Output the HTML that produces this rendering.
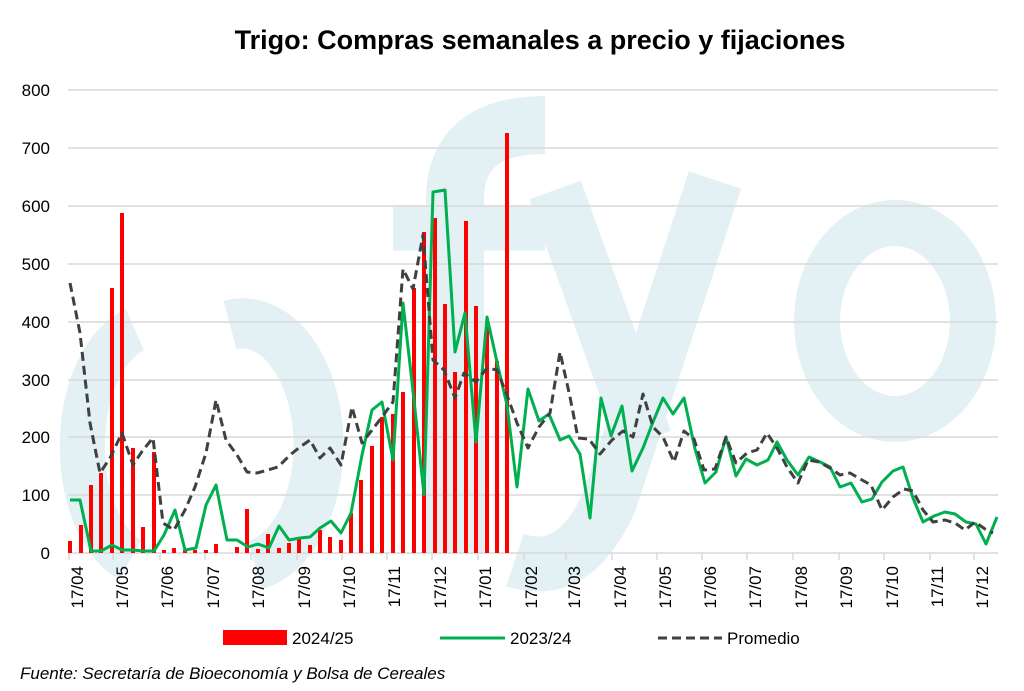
<!DOCTYPE html><html><head><meta charset="utf-8"><style>body{margin:0;background:#fff}svg{display:block;font-family:"Liberation Sans",sans-serif}</style></head><body>
<svg width="1024" height="691" viewBox="0 0 1024 691">
<rect width="1024" height="691" fill="#fff"/>
<g fill="none" stroke="#e3f0f4">
<path d="M135,330 A70,120 0 0 0 130,560" stroke-width="45"/>
<path d="M230,325 A75,120 0 0 1 255,565" stroke-width="50"/>
<path d="M455,553 V200 Q455,125 545,125" stroke-width="58"/>
<path d="M393,228 H545" stroke-width="45"/>
<path d="M555,190 L645,440" stroke-width="55"/>
<path d="M715,180 L610,500 Q575,580 515,560" stroke-width="55"/>
<ellipse cx="895" cy="321" rx="78" ry="98" stroke-width="46"/>
</g>
<g stroke="#d9d9d9" stroke-width="1.5">
<line x1="68" x2="998" y1="90" y2="90"/><line x1="68" x2="998" y1="148" y2="148"/><line x1="68" x2="998" y1="206" y2="206"/><line x1="68" x2="998" y1="264" y2="264"/><line x1="68" x2="998" y1="322" y2="322"/><line x1="68" x2="998" y1="380" y2="380"/><line x1="68" x2="998" y1="437" y2="437"/><line x1="68" x2="998" y1="495" y2="495"/><line x1="68" x2="998" y1="553" y2="553"/>
</g>
<g stroke="#d9d9d9" stroke-width="1.5">
<line x1="69" x2="69" y1="553" y2="560"/><line x1="113" x2="113" y1="553" y2="560"/><line x1="160" x2="160" y1="553" y2="560"/><line x1="205" x2="205" y1="553" y2="560"/><line x1="251" x2="251" y1="553" y2="560"/><line x1="297" x2="297" y1="553" y2="560"/><line x1="342" x2="342" y1="553" y2="560"/><line x1="387" x2="387" y1="553" y2="560"/><line x1="432" x2="432" y1="553" y2="560"/><line x1="478" x2="478" y1="553" y2="560"/><line x1="524" x2="524" y1="553" y2="560"/><line x1="566" x2="566" y1="553" y2="560"/><line x1="612" x2="612" y1="553" y2="560"/><line x1="657" x2="657" y1="553" y2="560"/><line x1="702" x2="702" y1="553" y2="560"/><line x1="747" x2="747" y1="553" y2="560"/><line x1="793" x2="793" y1="553" y2="560"/><line x1="839" x2="839" y1="553" y2="560"/><line x1="884" x2="884" y1="553" y2="560"/><line x1="930" x2="930" y1="553" y2="560"/><line x1="974" x2="974" y1="553" y2="560"/>
</g>
<path fill="none" stroke="#f00" stroke-width="4" d="M70,553V541M81,553V525M91,553V485M101,553V473M112,553V288M122,553V213M133,553V448M143,553V527M154,553V452M164,553V550M174,553V548M185,553V550M195,553V550M206,553V550M216,553V544M237,553V547M247,553V509M258,553V549M268,553V534M279,553V548M289,553V543M299,553V539M310,553V545M320,553V530M330,553V537M341,553V540M351,553V513M361,553V480M372,553V446M382,553V417M393,553V414M403,553V392M414,553V288M424,553V232M435,553V218M445,553V304M455,553V372M466,553V221M476,553V306M487,553V327M497,553V361M507,553V133"/>
<polyline fill="none" stroke="#00b050" stroke-width="3" stroke-linejoin="round" points="70,500 80,500 91,551 101,551 112,545 122,550 133,550 143,551 154,551 164,535 175,510 185,550 196,548 206,505 216,485 227,540 237,540 248,547 258,544 269,548 279,526 289,540 300,538 310,537 320,528 331,521 341,533 351,513 362,455 372,410 382,402 393,460 403,303 414,400 424,495 433,192 445,190 455,352 465,313 476,442 487,317 497,362 507,405 517,487 528,389 539,421 549,414 560,440 569,436 580,454 590,518 601,398 611,436 622,406 632,471 643,448 653,422 663,398 673,414 684,398 695,449 705,483 716,472 726,437 736,476 746,459 757,465 768,460 777,442 787,460 798,475 809,457 820,462 830,467 840,487 851,483 862,502 872,499 882,482 893,471 903,467 913,498 923,522 934,516 945,512 955,514 966,522 976,524 986,544 997,517"/>
<polyline fill="none" stroke="#404040" stroke-width="3" stroke-dasharray="9,5" stroke-linejoin="round" points="70,283 80,333 90,423 100,473 110,458 122,433 133,465 143,450 153,438 163,523 174,530 185,510 195,487 206,453 216,400 226,440 237,455 247,472 257,473 268,470 278,467 290,455 300,447 310,440 320,458 330,448 341,465 352,407 362,443 372,430 382,417 393,402 403,269 413,289 423,235 433,360 444,370 455,398 464,373 476,382 487,368 497,370 507,395 517,423 528,448 539,427 550,413 560,352 570,397 578,438 589,439 600,454 612,440 623,431 633,437 643,394 653,427 663,437 674,462 684,431 694,439 704,470 715,469 726,437 736,463 747,453 757,450 767,433 777,448 787,467 798,483 808,460 819,462 830,468 840,475 850,473 862,480 871,485 882,510 893,497 904,489 913,491 923,510 933,522 945,520 955,523 965,530 975,522 985,529 993,533"/>
<g font-size="17" fill="#000" text-anchor="end">
<text x="50" y="96">800</text><text x="50" y="154">700</text><text x="50" y="212">600</text><text x="50" y="270">500</text><text x="50" y="328">400</text><text x="50" y="386">300</text><text x="50" y="443">200</text><text x="50" y="501">100</text><text x="50" y="559">0</text>
</g>
<g font-size="17" fill="#000" text-anchor="end">
<text transform="translate(83,566) rotate(-90)">17/04</text><text transform="translate(128,566) rotate(-90)">17/05</text><text transform="translate(173,566) rotate(-90)">17/06</text><text transform="translate(219,566) rotate(-90)">17/07</text><text transform="translate(264,566) rotate(-90)">17/08</text><text transform="translate(310,566) rotate(-90)">17/09</text><text transform="translate(355,566) rotate(-90)">17/10</text><text transform="translate(400,566) rotate(-90)">17/11</text><text transform="translate(446,566) rotate(-90)">17/12</text><text transform="translate(491,566) rotate(-90)">17/01</text><text transform="translate(537,566) rotate(-90)">17/02</text><text transform="translate(580,566) rotate(-90)">17/03</text><text transform="translate(626,566) rotate(-90)">17/04</text><text transform="translate(671,566) rotate(-90)">17/05</text><text transform="translate(716,566) rotate(-90)">17/06</text><text transform="translate(761,566) rotate(-90)">17/07</text><text transform="translate(807,566) rotate(-90)">17/08</text><text transform="translate(852,566) rotate(-90)">17/09</text><text transform="translate(898,566) rotate(-90)">17/10</text><text transform="translate(943,566) rotate(-90)">17/11</text><text transform="translate(988,566) rotate(-90)">17/12</text>
</g>
<text x="540" y="49" font-size="27" font-weight="bold" text-anchor="middle">Trigo: Compras semanales a precio y fijaciones</text>
<rect x="223" y="630" width="64" height="15" fill="#f00"/>
<text x="292" y="644" font-size="17">2024/25</text>
<line x1="440" x2="505" y1="638" y2="638" stroke="#00b050" stroke-width="3"/>
<text x="510" y="644" font-size="17">2023/24</text>
<line x1="658" x2="722" y1="638" y2="638" stroke="#404040" stroke-width="3" stroke-dasharray="9,5"/>
<text x="727" y="644" font-size="17">Promedio</text>
<text x="20" y="679" font-size="17" font-style="italic">Fuente: Secretaría de Bioeconomía y Bolsa de Cereales</text>
</svg>
</body></html>
